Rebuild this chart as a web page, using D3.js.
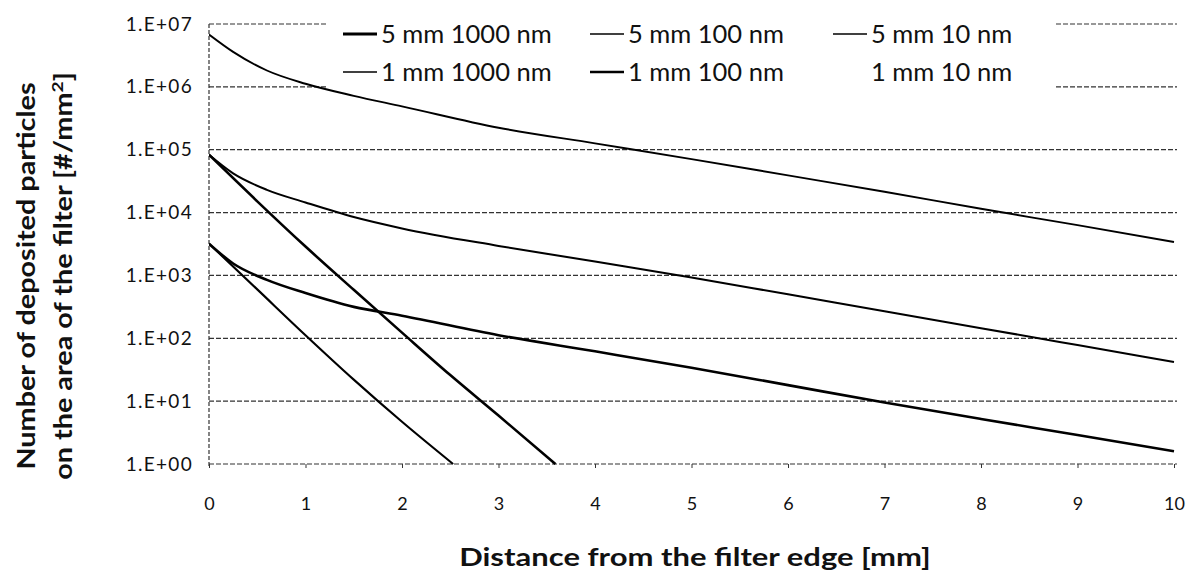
<!DOCTYPE html>
<html>
<head>
<meta charset="utf-8">
<script src="https://cdn.jsdelivr.net/npm/d3@7"></script>
<style>
  html, body { margin: 0; padding: 0; background: #fff; }
  svg { display: block; font-family: Lato, "Open Sans", sans-serif; }
</style>
</head>
<body>
<svg id="chart" width="1190" height="581"></svg>
<script>

// legend order, row by row
const seriesNames = ["5 mm 1000 nm", "5 mm 100 nm", "5 mm 10 nm",
                     "1 mm 1000 nm", "1 mm 100 nm", "1 mm 10 nm"];

// distance from the filter edge [mm] and deposited particles [#/mm2]
const dist5mm10nm = [0, 0.25, 0.6, 1, 1.5, 2, 3, 4, 5, 6, 7, 8, 9, 10];
const dep5mm10nm  = [6.8e6, 3.6e6, 1.82e6, 1.12e6, 7.2e5, 4.9e5, 2.24e5, 1.26e5, 7.1e4, 3.9e4, 2.14e4, 1.15e4, 6.3e3, 3.4e3];

const dist5mm100nm = [0, 0.25, 0.6, 1, 1.5, 2, 3, 4, 5, 6, 7, 8, 9, 10];
const dep5mm100nm  = [8.3e4, 4.2e4, 2.3e4, 1.45e4, 8.5e3, 5.6e3, 2.95e3, 1.66e3, 930, 500, 270, 145, 78, 42];

const dist5mm1000nm = [0, 0.25, 0.6, 1, 1.5, 2, 3, 4, 5, 6, 7, 8, 9, 10];
const dep5mm1000nm  = [3.2e3, 1.55e3, 850, 525, 316, 229, 112, 62, 34, 18, 9.5, 5.2, 2.9, 1.6];

const dist1mm100nm = [0, 0.5, 1, 1.5, 2, 2.5, 3, 3.59];
const dep1mm100nm  = [8.3e4, 1.51e4, 2.88e3, 590, 123, 26, 5.9, 1.0];

const dist1mm1000nm = [0, 0.5, 1, 1.5, 2, 2.53];
const dep1mm1000nm  = [3.2e3, 600, 112, 22, 4.7, 1.0];

const xTicks = [0, 1, 2, 3, 4, 5, 6, 7, 8, 9, 10];
const yTicks = [1, 10, 100, 1e3, 1e4, 1e5, 1e6, 1e7];
const yTickLabels = ["1.E+00", "1.E+01", "1.E+02", "1.E+03", "1.E+04", "1.E+05", "1.E+06", "1.E+07"];

const seriesData = {
    "5 mm 10 nm":   d3.zip(dist5mm10nm, dep5mm10nm),
    "5 mm 100 nm":  d3.zip(dist5mm100nm, dep5mm100nm),
    "5 mm 1000 nm": d3.zip(dist5mm1000nm, dep5mm1000nm),
    "1 mm 100 nm":  d3.zip(dist1mm100nm, dep1mm100nm),
    "1 mm 1000 nm": d3.zip(dist1mm1000nm, dep1mm1000nm)
};

// line weights as drawn (the 1 mm 10 nm sample is not visible in the picture)
const strokeW = {
    "5 mm 1000 nm": 2.6, "5 mm 100 nm": 2, "5 mm 10 nm": 1.9,
    "1 mm 1000 nm": 2.1, "1 mm 100 nm": 2.6, "1 mm 10 nm": 0
};
const legendW = {
    "5 mm 1000 nm": 3, "5 mm 100 nm": 1.6, "5 mm 10 nm": 1.3,
    "1 mm 1000 nm": 1.7, "1 mm 100 nm": 2.5, "1 mm 10 nm": 0
};

const svg = d3.select('#chart');
const pLeft = 209, pRight = 1174, pTop = 24, pBottom = 464;

const x = d3.scaleLinear().domain([0, 10]).range([pLeft, pRight]);
const y = d3.scaleLog().domain([1, 1e7]).range([pBottom, pTop]);

// gridlines
svg.append('g')
    .selectAll('line')
    .data(yTicks)
    .join('line')
    .attr('x1', pLeft).attr('x2', pRight + 3)
    .attr('y1', d => y(d)).attr('y2', d => y(d))
    .attr('stroke', '#333')
    .attr('stroke-width', 1.2)
    .attr('stroke-dasharray', '5,2');

// y axis line
svg.append('line')
    .attr('x1', pLeft).attr('x2', pLeft)
    .attr('y1', pTop).attr('y2', pBottom + 4)
    .attr('stroke', '#333')
    .attr('stroke-width', 1.2)
    .attr('stroke-dasharray', '4,2');

// x axis
const xAxis = svg.append('g')
    .attr('transform', 'translate(0,' + pBottom + ')')
    .call(d3.axisBottom(x).tickValues(xTicks).tickSize(4).tickPadding(29).tickFormat(d3.format('d')));
xAxis.select('.domain').remove();
xAxis.selectAll('line').attr('stroke', '#333');
xAxis.selectAll('text')
    .attr('font-family', 'Lato, sans-serif')
    .attr('font-size', 18)
    .attr('fill', '#111');

// y axis labels
const yAxis = svg.append('g')
    .attr('transform', 'translate(' + pLeft + ',0)')
    .call(d3.axisLeft(y).tickValues(yTicks).tickSize(0).tickPadding(16)
        .tickFormat((d, i) => yTickLabels[i]));
yAxis.select('.domain').remove();
yAxis.selectAll('text')
    .attr('font-family', 'Lato, sans-serif')
    .attr('font-size', 19)
    .attr('letter-spacing', 1.3)
    .attr('fill', '#111');

// legend box (white, hides the top gridlines but sits under the curves)
svg.append('rect')
    .attr('x', 326).attr('y', 6)
    .attr('width', 730).attr('height', 92)
    .attr('fill', '#fff');

// curves
svg.append('clipPath').attr('id', 'plotclip')
    .append('rect')
    .attr('x', pLeft).attr('y', pTop - 2)
    .attr('width', pRight - pLeft + 2).attr('height', pBottom - pTop + 3);

const line = d3.line()
    .x(d => x(d[0]))
    .y(d => y(d[1]))
    .curve(d3.curveMonotoneX);

svg.append('g')
    .attr('clip-path', 'url(#plotclip)')
    .selectAll('path')
    .data(Object.keys(seriesData))
    .join('path')
    .attr('d', k => line(seriesData[k]))
    .attr('fill', 'none')
    .attr('stroke', '#000')
    .attr('stroke-width', k => strokeW[k])
    .attr('stroke-linejoin', 'round');

// legend entries
const legendCols = [343, 590, 833];
const legendRows = [34, 72];

const leg = svg.append('g')
    .selectAll('g')
    .data(seriesNames)
    .join('g')
    .attr('transform', (d, i) => 'translate(' + legendCols[i % 3] + ',' + legendRows[Math.floor(i / 3)] + ')');

leg.append('line')
    .attr('x1', 0).attr('x2', 34)
    .attr('y1', 0).attr('y2', 0)
    .attr('stroke', '#000')
    .attr('stroke-width', d => legendW[d]);

leg.append('text')
    .attr('x', 38)
    .attr('dy', '0.35em')
    .attr('font-size', 25.5)
    .attr('fill', '#111')
    .text(d => d);

// axis titles
svg.append('text')
    .attr('transform', 'translate(' + 695 + ',566) scale(1.24,1)')
    .attr('text-anchor', 'middle')
    .attr('font-size', 25)
    .attr('font-weight', 'bold')
    .attr('fill', '#111')
    .text('Distance from the filter edge [mm]');

const yTitle = svg.append('text')
    .attr('transform', 'translate(0,276) rotate(-90) scale(1.2,1)')
    .attr('text-anchor', 'middle')
    .attr('font-size', 24)
    .attr('font-weight', 'bold')
    .attr('fill', '#111');

yTitle.append('tspan')
    .attr('x', 0).attr('y', 35)
    .text('Number of deposited particles');

yTitle.append('tspan')
    .attr('x', 0).attr('y', 72)
    .text('on the area of the filter [#/mm');
yTitle.append('tspan').attr('dy', -9).attr('font-size', 16).text('2');
yTitle.append('tspan').attr('dy', 9).text(']');

</script>
</body>
</html>
